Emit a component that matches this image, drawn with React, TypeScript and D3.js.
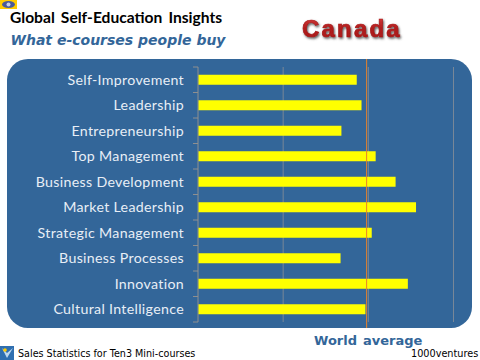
import React from "react";
import * as d3 from "d3";

const categories = ["Self-Improvement","Leadership","Entrepreneurship","Top Management","Business Development","Market Leadership","Strategic Management","Business Processes","Innovation","Cultural Intelligence"];
const values = [93.2, 96, 84.2, 104.3, 116, 128, 102, 83.7, 123.2, 98.3];
const worldAverage = 99;
const gridTicks = [50, 100, 150];

const BLUE = "#336699";

export default function App() {
  const x = d3.scaleLinear().domain([0, 150]).range([198, 453.5]);
  const y = d3.scaleBand<string>().domain(categories).range([67, 322]);
  const barH = 10;
  const edges = d3.range(categories.length + 1).map((i) => 67 + i * y.step());
  return (
    <svg width={480} height={360} style={{ position: "fixed", left: 0, top: 0, background: "#fff" }}>
      <defs>
        <linearGradient id="red" x1="0" y1="0" x2="0" y2="1">
          <stop offset="0" stopColor="#d84040" />
          <stop offset="0.5" stopColor="#b01c1c" />
          <stop offset="1" stopColor="#a81818" />
        </linearGradient>
        <filter id="sh" x="-10%" y="-20%" width="120%" height="150%">
          <feDropShadow dx="1" dy="1.5" stdDeviation="0.8" floodColor="#444" floodOpacity="0.9" />
        </filter>
      </defs>

      {/* top-left eye logo */}
      <rect x={0} y={0} width={17} height={9} fill="#ffcc00" />
      <ellipse cx={8.5} cy={4.5} rx={6.5} ry={3.5} fill="#4a5a9a" />
      <circle cx={8.5} cy={4.5} r={2} fill="#c8d0e8" />

      <text x={10} y={23} fontFamily="Lato, sans-serif" fontWeight={700} fontSize={15.6} wordSpacing={2.3} fill="#000">Global Self-Education Insights</text>
      <text x={10.5} y={45} fontFamily="DejaVu Sans" fontWeight={700} fontStyle="italic" fontSize={14} fill={BLUE}>What e-courses people buy</text>
      <text x={302} y={37} fontFamily="Liberation Sans" fontWeight={700} fontSize={24} letterSpacing={2.2} fill="url(#red)" stroke="#a81818" strokeWidth={0.7} filter="url(#sh)">Canada</text>

      <rect x={7} y={59} width={465} height={269} rx={21} ry={21} fill={BLUE} />

      {gridTicks.map((t) => (
        <line key={t} x1={x(t)} x2={x(t)} y1={67} y2={322} stroke="#8a8f98" strokeWidth={0.8} />
      ))}
      <line x1={198} x2={198} y1={67} y2={322} stroke="#8f8f8f" strokeWidth={1} />
      {edges.map((e, i) => (
        <line key={i} x1={193} x2={198} y1={e} y2={e} stroke="#8f8f8f" strokeWidth={1} />
      ))}

      {categories.map((c, i) => {
        const cy = y(c)! + y.bandwidth() / 2;
        return (
          <g key={c}>
            <rect x={x(0) + 0.5} y={cy - barH / 2} width={x(values[i]) - x(0) - 0.5} height={barH} fill="#ffff00" />
            <text x={184} y={cy + 4.8} textAnchor="end" fontFamily="Lato, sans-serif" fontSize={14.2} letterSpacing={0.32} fill="#e8eef6">{c}</text>
          </g>
        );
      })}

      <line x1={x(worldAverage)} x2={x(worldAverage)} y1={59} y2={328} stroke="#e8822a" strokeWidth={1} />

      <text x={314} y={345} fontFamily="DejaVu Sans" fontWeight={700} fontSize={13} wordSpacing={1.5} fill={BLUE}>World average</text>

      {/* bottom-left logo */}
      <rect x={0} y={346} width={14} height={14} fill="#2f6fb0" />
      <path d="M2 348 L7 358 L13 348 L7 353 Z" fill="#bcd8f0" />
      <circle cx={5} cy={350} r={1.8} fill="#ffcc00" />

      <text x={18} y={357} fontFamily="DejaVu Sans" fontSize={9.6} fill="#000">Sales Statistics for Ten3 Mini-courses</text>
      <text x={411} y={357} fontFamily="DejaVu Sans" fontSize={9.7} fill="#000">1000ventures</text>
    </svg>
  );
}
